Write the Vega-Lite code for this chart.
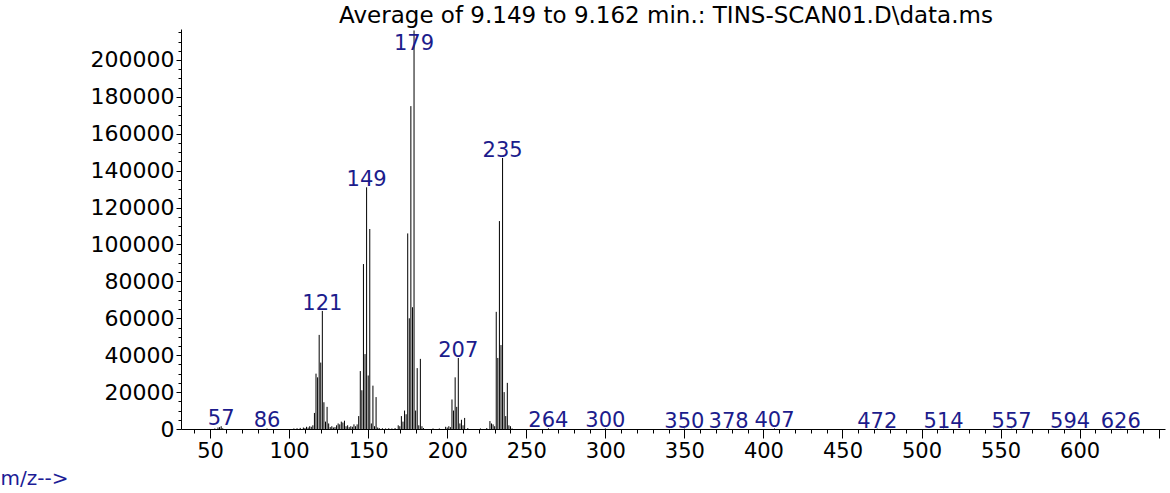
{
  "$schema": "https://vega.github.io/schema/vega-lite/v6.json",
  "width": 984,
  "height": 400,
  "autosize": {"type": "none"},
  "padding": {"left": 181, "top": 29, "right": 5, "bottom": 64},
  "background": "white",
  "title": {
    "text": "Average of 9.149 to 9.162 min.: TINS-SCAN01.D\\data.ms",
    "font": "DejaVu Sans",
    "fontSize": 23,
    "fontWeight": "normal",
    "color": "black",
    "anchor": "middle",
    "frame": "group",
    "baseline": "bottom",
    "offset": -22,
    "dx": -7
  },
  "config": {
    "view": {"stroke": null},
    "font": "DejaVu Sans",
    "axis": {"grid": false, "domainColor": "black", "tickColor": "black", "labelColor": "black", "titleFontWeight": "normal"}
  },
  "datasets": {
    "peaks": [
      {"mz": 53, "intensity": 300}, {"mz": 55, "intensity": 800}, {"mz": 56, "intensity": 1000}, {"mz": 57, "intensity": 1500}, {"mz": 58, "intensity": 400},
      {"mz": 86, "intensity": 300},
      {"mz": 103, "intensity": 300}, {"mz": 105, "intensity": 400}, {"mz": 107, "intensity": 600}, {"mz": 109, "intensity": 800}, {"mz": 110, "intensity": 500},
      {"mz": 111, "intensity": 1200}, {"mz": 112, "intensity": 800}, {"mz": 113, "intensity": 1500}, {"mz": 114, "intensity": 1200},
      {"mz": 115, "intensity": 2000}, {"mz": 116, "intensity": 8700}, {"mz": 117, "intensity": 30000}, {"mz": 118, "intensity": 28000},
      {"mz": 119, "intensity": 51000}, {"mz": 120, "intensity": 36000}, {"mz": 121, "intensity": 64000}, {"mz": 122, "intensity": 14500},
      {"mz": 123, "intensity": 4000}, {"mz": 124, "intensity": 12000}, {"mz": 125, "intensity": 3000}, {"mz": 126, "intensity": 1000},
      {"mz": 127, "intensity": 1500}, {"mz": 128, "intensity": 800}, {"mz": 129, "intensity": 1000}, {"mz": 130, "intensity": 2000},
      {"mz": 131, "intensity": 3000}, {"mz": 132, "intensity": 2500}, {"mz": 133, "intensity": 4000}, {"mz": 134, "intensity": 3500},
      {"mz": 135, "intensity": 4500}, {"mz": 136, "intensity": 1500}, {"mz": 137, "intensity": 2000}, {"mz": 138, "intensity": 1000},
      {"mz": 139, "intensity": 1500}, {"mz": 140, "intensity": 1200}, {"mz": 141, "intensity": 2500}, {"mz": 142, "intensity": 1500},
      {"mz": 143, "intensity": 2500}, {"mz": 144, "intensity": 7000}, {"mz": 145, "intensity": 31400}, {"mz": 146, "intensity": 21000},
      {"mz": 147, "intensity": 89400}, {"mz": 148, "intensity": 40600}, {"mz": 149, "intensity": 131000}, {"mz": 150, "intensity": 29000},
      {"mz": 151, "intensity": 108400}, {"mz": 152, "intensity": 3000}, {"mz": 153, "intensity": 23500}, {"mz": 154, "intensity": 1500},
      {"mz": 155, "intensity": 17300}, {"mz": 156, "intensity": 800}, {"mz": 157, "intensity": 500}, {"mz": 159, "intensity": 400},
      {"mz": 161, "intensity": 300}, {"mz": 163, "intensity": 400}, {"mz": 165, "intensity": 300}, {"mz": 167, "intensity": 500},
      {"mz": 169, "intensity": 2000}, {"mz": 170, "intensity": 1500}, {"mz": 171, "intensity": 7000}, {"mz": 172, "intensity": 4000},
      {"mz": 173, "intensity": 10000}, {"mz": 174, "intensity": 8000}, {"mz": 175, "intensity": 106000}, {"mz": 176, "intensity": 60000},
      {"mz": 177, "intensity": 175000}, {"mz": 178, "intensity": 66000}, {"mz": 179, "intensity": 216000}, {"mz": 180, "intensity": 10000},
      {"mz": 181, "intensity": 33000}, {"mz": 182, "intensity": 2000}, {"mz": 183, "intensity": 38000}, {"mz": 184, "intensity": 1500},
      {"mz": 185, "intensity": 500}, {"mz": 191, "intensity": 300}, {"mz": 195, "intensity": 300}, {"mz": 199, "intensity": 1200},
      {"mz": 200, "intensity": 800}, {"mz": 201, "intensity": 1500}, {"mz": 202, "intensity": 1000}, {"mz": 203, "intensity": 16000},
      {"mz": 204, "intensity": 10000}, {"mz": 205, "intensity": 28000}, {"mz": 206, "intensity": 12000}, {"mz": 207, "intensity": 38500},
      {"mz": 208, "intensity": 3000}, {"mz": 209, "intensity": 5000}, {"mz": 210, "intensity": 2000}, {"mz": 211, "intensity": 6000},
      {"mz": 213, "intensity": 500}, {"mz": 221, "intensity": 300}, {"mz": 225, "intensity": 500}, {"mz": 227, "intensity": 4300},
      {"mz": 228, "intensity": 3000}, {"mz": 229, "intensity": 2500}, {"mz": 230, "intensity": 1500}, {"mz": 231, "intensity": 63500},
      {"mz": 232, "intensity": 38500}, {"mz": 233, "intensity": 112700}, {"mz": 234, "intensity": 45500}, {"mz": 235, "intensity": 146900},
      {"mz": 236, "intensity": 20000}, {"mz": 237, "intensity": 7000}, {"mz": 238, "intensity": 25000}, {"mz": 239, "intensity": 2000},
      {"mz": 240, "intensity": 1500}, {"mz": 241, "intensity": 300},
      {"mz": 264, "intensity": 400}, {"mz": 300, "intensity": 300}, {"mz": 350, "intensity": 200}, {"mz": 378, "intensity": 200},
      {"mz": 407, "intensity": 300}, {"mz": 472, "intensity": 200}, {"mz": 514, "intensity": 200}, {"mz": 557, "intensity": 150},
      {"mz": 594, "intensity": 150}, {"mz": 626, "intensity": 150}
    ],
    "labels": [
      {"mz": 57, "intensity": 1500}, {"mz": 86, "intensity": 300}, {"mz": 121, "intensity": 64000}, {"mz": 149, "intensity": 131000},
      {"mz": 179, "intensity": 216000}, {"mz": 207, "intensity": 38500}, {"mz": 235, "intensity": 146900}, {"mz": 264, "intensity": 400},
      {"mz": 300, "intensity": 300}, {"mz": 350, "intensity": 200}, {"mz": 378, "intensity": 200}, {"mz": 407, "intensity": 300},
      {"mz": 472, "intensity": 200}, {"mz": 514, "intensity": 200}, {"mz": 557, "intensity": 150}, {"mz": 594, "intensity": 150},
      {"mz": 626, "intensity": 150}
    ]
  },
  "layer": [
    {
      "data": {"name": "peaks"},
      "mark": {"type": "rule", "color": "black", "strokeWidth": 1},
      "encoding": {
        "x": {
          "field": "mz", "type": "quantitative",
          "scale": {"domain": [31.6, 654], "nice": false, "zero": false},
          "axis": {
            "values": [50, 100, 150, 200, 250, 300, 350, 400, 450, 500, 550, 600, 650],
            "labelExpr": "datum.value == 650 ? '' : datum.label",
            "format": "d",
            "tickSize": 9,
            "labelPadding": 2,
            "labelFontSize": 21,
            "labelFont": "DejaVu Sans",
            "title": "m/z-->",
            "titleFont": "DejaVu Sans",
            "titleFontSize": 20,
            "titleColor": "#1c1c96",
            "titleAlign": "left",
            "titleAnchor": "start",
            "titleBaseline": "middle",
            "titleX": -181,
            "titleY": 49
          }
        },
        "y": {
          "field": "intensity", "type": "quantitative",
          "scale": {"domain": [0, 216800], "nice": false},
          "axis": {
            "values": [0, 20000, 40000, 60000, 80000, 100000, 120000, 140000, 160000, 180000, 200000],
            "format": "d",
            "tickSize": 5,
            "labelPadding": 2,
            "labelFontSize": 22,
            "labelFont": "DejaVu Sans",
            "title": null
          }
        },
        "y2": {"datum": 0}
      }
    },
    {
      "data": {"name": "labels"},
      "transform": [{"calculate": "min(datum.intensity, 205000)", "as": "labelPos"}],
      "mark": {"type": "text", "baseline": "alphabetic", "dy": -1, "fontSize": 21, "font": "DejaVu Sans", "color": "#1c1c8c"},
      "encoding": {
        "x": {
          "field": "mz", "type": "quantitative",
          "axis": {
            "orient": "bottom",
            "values": [40, 60, 70, 80, 90, 110, 120, 130, 140, 160, 170, 180, 190, 210, 220, 230, 240, 260, 270, 280, 290, 310, 320, 330, 340, 360, 370, 380, 390, 410, 420, 430, 440, 460, 470, 480, 490, 510, 520, 530, 540, 560, 570, 580, 590, 610, 620, 630, 640],
            "labels": false, "domain": false, "tickSize": 4, "title": null
          }
        },
        "y": {
          "field": "labelPos", "type": "quantitative",
          "axis": {
            "orient": "left",
            "values": [5000, 10000, 15000, 25000, 30000, 35000, 45000, 50000, 55000, 65000, 70000, 75000, 85000, 90000, 95000, 105000, 110000, 115000, 125000, 130000, 135000, 145000, 150000, 155000, 165000, 170000, 175000, 185000, 190000, 195000, 205000, 210000, 215000],
            "labels": false, "domain": false, "tickSize": 3, "title": null
          }
        },
        "text": {"field": "mz", "type": "quantitative", "format": "d"}
      }
    }
  ],
  "resolve": {"axis": {"x": "independent", "y": "independent"}}
}
